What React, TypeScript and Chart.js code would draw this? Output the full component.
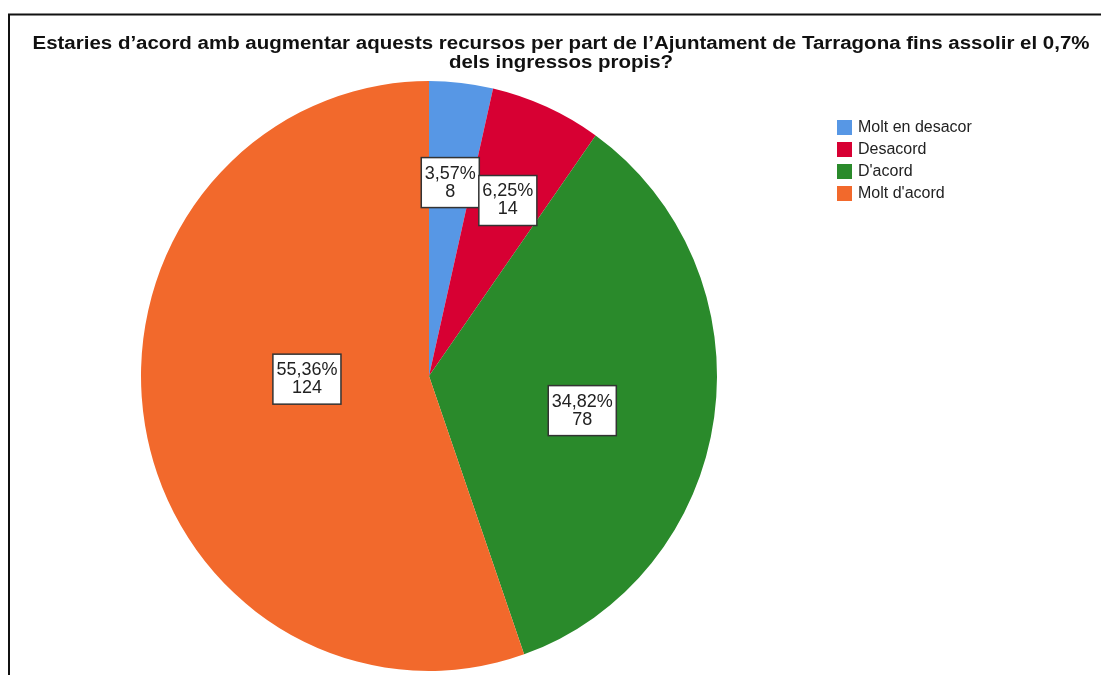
import React, { useEffect, useRef } from "react";
import { Chart, registerables } from "chart.js";
Chart.register(...registerables);

const categories = ["Molt en desacor", "Desacord", "D'acord", "Molt d'acord"];
const counts = [8, 14, 78, 124];
const colors = ["#5797E5", "#D70033", "#2A8A2B", "#F2692C"];
const titleLines = [
  "Estaries d’acord amb augmentar aquests recursos per part de l’Ajuntament de Tarragona fins assolir el 0,7%",
  "dels ingressos propis?",
];
// label placement (fraction of radius, angle nudge in degrees)
const labelRadius = [0.66, 0.655, 0.545, 0.424];
const labelShift = [0, 0.6, 4.4, 8.2];

const SY = 1.024; // vertical stretch of the pie as in the reference
const FONT = "'Liberation Sans', Arial, sans-serif";
const TITLE_WIDTH = 1057;

const total = counts.reduce((a, b) => a + b, 0);
const percentLabels = counts.map((c) => ((c / total) * 100).toFixed(2).replace(".", ",") + "%");

const stretchPlugin = {
  id: "stretch",
  beforeDatasetsDraw(chart: any) {
    const arc = chart.getDatasetMeta(0).data[0];
    const ctx = chart.ctx;
    ctx.save();
    ctx.translate(arc.x, arc.y);
    ctx.scale(1, SY);
    ctx.translate(-arc.x, -arc.y);
  },
  afterDatasetsDraw(chart: any) {
    chart.ctx.restore();
  },
};

const decorPlugin = {
  id: "decor",
  afterDraw(chart: any) {
    const ctx = chart.ctx as CanvasRenderingContext2D;
    ctx.save();
    // frame
    ctx.strokeStyle = "#111";
    ctx.lineWidth = 2;
    ctx.beginPath();
    ctx.moveTo(9, 675);
    ctx.lineTo(9, 14.5);
    ctx.lineTo(1101, 14.5);
    ctx.stroke();

    // title (horizontally widened like the reference)
    ctx.fillStyle = "#111";
    ctx.font = `bold 18px ${FONT}`;
    ctx.textAlign = "center";
    ctx.textBaseline = "alphabetic";
    const sx = TITLE_WIDTH / ctx.measureText(titleLines[0]).width;
    ctx.save();
    ctx.translate(561, 0);
    ctx.scale(sx, 1);
    ctx.fillText(titleLines[0], 0, 49);
    ctx.fillText(titleLines[1], 0, 68);
    ctx.restore();

    // legend
    ctx.textAlign = "left";
    ctx.textBaseline = "middle";
    ctx.font = `16px ${FONT}`;
    categories.forEach((c, i) => {
      const y = 120 + i * 22;
      ctx.fillStyle = colors[i];
      ctx.fillRect(837, y, 15, 15);
      ctx.fillStyle = "#222";
      ctx.fillText(c, 858, y + 8);
    });

    // data labels
    const meta = chart.getDatasetMeta(0);
    ctx.font = `18px ${FONT}`;
    ctx.textAlign = "center";
    meta.data.forEach((arc: any, i: number) => {
      const mid = (arc.startAngle + arc.endAngle) / 2 + (labelShift[i] * Math.PI) / 180;
      const r = arc.outerRadius * labelRadius[i];
      const px = arc.x + Math.cos(mid) * r;
      const py = arc.y + Math.sin(mid) * r * SY;
      const l1 = percentLabels[i];
      const l2 = String(counts[i]);
      const w = Math.max(ctx.measureText(l1).width, ctx.measureText(l2).width) + 7;
      const h = 50;
      ctx.fillStyle = "#fff";
      ctx.fillRect(px - w / 2, py - h / 2, w, h);
      ctx.strokeStyle = "#333";
      ctx.lineWidth = 1.5;
      ctx.strokeRect(px - w / 2, py - h / 2, w, h);
      ctx.fillStyle = "#222";
      ctx.fillText(l1, px, py - 9);
      ctx.fillText(l2, px, py + 9);
    });
    ctx.restore();
  },
};

export default function App() {
  const ref = useRef<HTMLCanvasElement | null>(null);
  useEffect(() => {
    if (!ref.current) return;
    const chart = new Chart(ref.current, {
      type: "pie",
      data: {
        labels: categories,
        datasets: [
          {
            data: counts,
            backgroundColor: colors,
            borderWidth: 0,
            hoverOffset: 0,
            offset: 0,
          } as any,
        ],
      },
      options: {
        responsive: false,
        animation: false,
        devicePixelRatio: 1,
        layout: { padding: { left: 141, right: 384, top: 88, bottom: 11 } },
        plugins: {
          legend: { display: false },
          title: { display: false },
          tooltip: { enabled: false },
        },
        events: [],
      },
      plugins: [stretchPlugin, decorPlugin],
    });
    return () => chart.destroy();
  }, []);
  return (
    <div style={{ position: "fixed", left: 0, top: 0, width: 1101, height: 675, background: "#fff" }}>
      <canvas ref={ref} width={1101} height={675} style={{ width: 1101, height: 675, display: "block" }} />
    </div>
  );
}
